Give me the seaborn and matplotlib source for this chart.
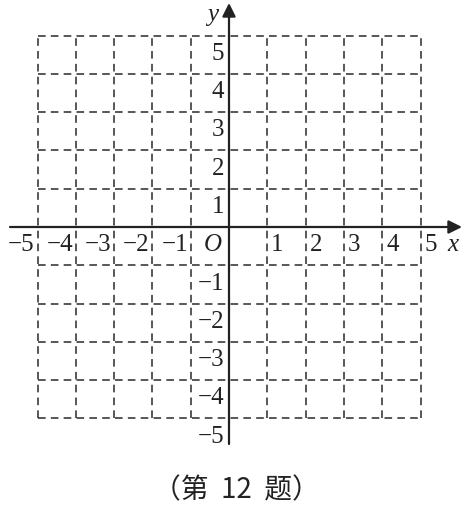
import numpy as np
import pandas as pd
import seaborn as sns
import matplotlib.pyplot as plt

# valores de la cuadrícula y etiquetas
grid_vals = [-5, -4, -3, -2, -1, 0, 1, 2, 3, 4, 5]
x_ticks = [-5, -4, -3, -2, -1, 1, 2, 3, 4, 5]
y_ticks = [5, 4, 3, 2, 1, -1, -2, -3, -4, -5]
caption = '（第 12 题）'

sns.set_theme(style='white')
plt.rcParams['font.family'] = ['Liberation Serif', 'DejaVu Serif']

# segmentos de la cuadrícula en formato largo
rows = []
seg = 0
lo, hi = min(grid_vals), max(grid_vals)
for k in grid_vals:
    rows += [(seg, k, lo), (seg, k, hi)]
    seg += 1
    rows += [(seg, lo, k), (seg, hi, k)]
    seg += 1
df_grid = pd.DataFrame(rows, columns=['seg', 'x', 'y'])

fig = plt.figure(figsize=(4.67, 5.10), dpi=100)
ax = fig.add_axes([0, 0, 1, 1])

# escala: origen en px (229, 228), unidad 38.3 px
u = 38.3
ox, oy = 229, 228
ax.set_xlim(-ox / u, (467 - ox) / u)
ax.set_ylim(-(510 - oy) / u, oy / u)

sns.lineplot(data=df_grid, x='x', y='y', units='seg', estimator=None,
             sort=False, color='#2a2a2a', linewidth=1.1, ax=ax)
for ln in ax.lines:
    ln.set_linestyle((0, (5, 3.4)))

# ejes con flechas
arrow = dict(arrowstyle='-|>', lw=1.6, color='#222222', mutation_scale=20,
             shrinkA=0, shrinkB=0)
ax.annotate('', xy=((462 - ox) / u, 0), xytext=(-(ox - 10) / u, 0), arrowprops=arrow)
ax.annotate('', xy=(0, (oy - 4) / u), xytext=(0, -(445 - oy) / u), arrowprops=arrow)

fs = 18
for k in x_ticks:
    lab = str(k).replace('-', '\u2212')
    if k < 0:
        ax.text(k - 0.07, -0.45, lab, ha='right', va='center', fontsize=fs, color='#222222')
    else:
        ax.text(k + 0.1, -0.45, lab, ha='left', va='center', fontsize=fs, color='#222222')
for k in y_ticks:
    lab = str(k).replace('-', '\u2212')
    ax.text(-0.12, k - 0.45, lab, ha='right', va='center', fontsize=fs, color='#222222')

ax.text(-0.42, -0.45, 'O', ha='center', va='center', fontsize=fs, style='italic', color='#222222')
ax.text(5.85, -0.45, 'x', ha='center', va='center', fontsize=fs, style='italic', color='#222222')
ax.text(-0.42, 5.55, 'y', ha='center', va='center', fontsize=fs, style='italic', color='#222222')

ax.text(0.2, -(490 - oy) / u, caption.replace(' ', '  '), ha='center', va='center',
        fontsize=20, family=['Noto Sans CJK SC', 'DejaVu Sans'], color='#222222')

ax.set_axis_off()
fig.savefig('out.png', dpi=100, facecolor='white')
